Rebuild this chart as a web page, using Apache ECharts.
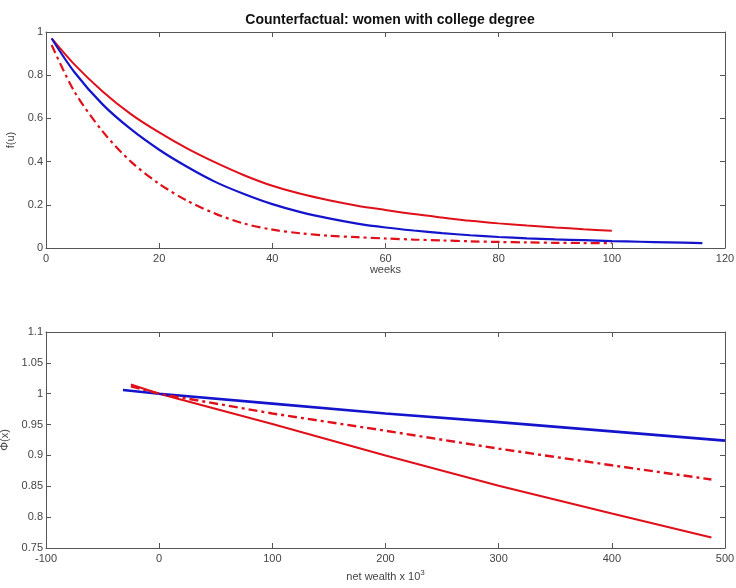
<!DOCTYPE html>
<html>
<head>
<meta charset="utf-8">
<script src="https://cdn.jsdelivr.net/npm/echarts@6/dist/echarts.min.js"></script>
<style>
html,body{margin:0;padding:0;background:#fff;}
#c{width:736px;height:588px;}
</style>
</head>
<body>
<div id="c"></div>
<script>
// ---- Top panel data (weeks vs f(u)) ----
const weeksRed = [1,5,10,15,20,25,30,35,40,45,50,55,60,65,70,75,80,85,90,95,100];
const fRedSolid = [0.97,0.85,0.725,0.62,0.535,0.46,0.395,0.337,0.288,0.251,0.221,0.196,0.176,0.157,0.141,0.126,0.114,0.104,0.095,0.087,0.08];
const fRedDash  = [0.94,0.725,0.54,0.40,0.297,0.218,0.158,0.113,0.085,0.068,0.057,0.05,0.044,0.039,0.035,0.031,0.028,0.026,0.024,0.023,0.022];
const weeksBlue = [1,5,10,15,20,25,30,35,40,45,50,55,60,65,70,75,80,85,90,95,100,105,110,116];
const fBlue = [0.97,0.815,0.665,0.55,0.455,0.375,0.305,0.25,0.203,0.166,0.137,0.113,0.095,0.081,0.069,0.059,0.051,0.045,0.04,0.036,0.032,0.029,0.026,0.023];

// ---- Bottom panel data (net wealth vs Phi(x)) ----
const wealthRed = [-25,0,100,200,300,400,488];
const phiRedSolid = [1.015,1.0,0.951,0.90,0.851,0.806,0.767];
const phiRedDash  = [1.012,1.0,0.968,0.940,0.911,0.884,0.861];
const wealthBlue = [-32,0,100,200,300,400,500];
const phiBlue = [1.006,1.0,0.984,0.968,0.954,0.939,0.924];

// ---- Axis settings ----
const topX = {min:0, max:120, interval:20};
const topY = {min:0, max:1, interval:0.2};
const botX = {min:-100, max:500, interval:100};
const botY = {min:0.75, max:1.1, interval:0.05};

const titleText = 'Counterfactual: women with college degree';

const pairs = (xs, ys) => xs.map((x,i)=>[x, ys[i]]);
const FONT = '"Liberation Sans Narrow","Arial Narrow","Liberation Sans",Arial,sans-serif';
const axisCol = '#555';
const lblCol = '#444';
const fmt = v => String(+(+v).toFixed(2));

function xAxes(grid, cfg, name, gap, nameStyle){
  return [
    {
      type:'value', gridIndex:grid, position:'bottom', min:cfg.min, max:cfg.max, interval:cfg.interval,
      axisLine:{onZero:false, lineStyle:{color:axisCol, width:1}},
      axisTick:{inside:true, length:5, lineStyle:{color:axisCol}},
      axisLabel:{color:lblCol, fontFamily:FONT, fontSize:11, margin:5, formatter:fmt},
      splitLine:{show:false},
      name:name, nameLocation:'middle', nameGap:gap,
      nameTextStyle:Object.assign({color:lblCol, fontFamily:FONT, fontSize:11}, nameStyle||{})
    },
    {
      type:'value', gridIndex:grid, position:'top', min:cfg.min, max:cfg.max, interval:cfg.interval,
      axisLine:{onZero:false, lineStyle:{color:axisCol, width:1}},
      axisTick:{inside:true, length:5, lineStyle:{color:axisCol}},
      axisLabel:{show:false}, splitLine:{show:false}
    }
  ];
}
function yAxes(grid, cfg, name, gap){
  return [
    {
      type:'value', gridIndex:grid, position:'left', min:cfg.min, max:cfg.max, interval:cfg.interval,
      axisLine:{onZero:false, show:true, lineStyle:{color:axisCol, width:1}},
      axisTick:{show:true, inside:true, length:5, lineStyle:{color:axisCol}},
      axisLabel:{color:lblCol, fontFamily:FONT, fontSize:11, margin:3, formatter:fmt},
      splitLine:{show:false},
      name:name, nameLocation:'middle', nameGap:gap, nameRotate:90,
      nameTextStyle:{color:lblCol, fontFamily:FONT, fontSize:11}
    },
    {
      type:'value', gridIndex:grid, position:'right', min:cfg.min, max:cfg.max, interval:cfg.interval,
      axisLine:{onZero:false, show:true, lineStyle:{color:axisCol, width:1}},
      axisTick:{show:true, inside:true, length:5, lineStyle:{color:axisCol}},
      axisLabel:{show:false}, splitLine:{show:false}
    }
  ];
}

const RED = '#e0101a';
const BLUE = '#1414cc';
const dashDot = [9,4,3,4];

const chart = echarts.init(document.getElementById('c'), null, {renderer:'canvas'});
chart.setOption({
  animation:false,
  backgroundColor:'#fff',
  title:{text:titleText, left:385, top:8, textAlign:'center',
    textStyle:{fontFamily:FONT, fontWeight:'bold', fontSize:14, color:'#111'}},
  grid:[
    {left:46, top:32, width:679, height:216, containLabel:false, outerBoundsMode:'none'},
    {left:46, top:332, width:679, height:216, containLabel:false, outerBoundsMode:'none'}
  ],
  xAxis:[].concat(
    xAxes(0, topX, 'weeks', 14),
    xAxes(1, botX, 'net wealth x 10{sup|3}', 21,
      {rich:{sup:{fontSize:8, verticalAlign:'top', padding:[0,0,7,0], color:lblCol, fontFamily:FONT}}})
  ),
  yAxis:[].concat(
    yAxes(0, topY, 'f(u)', 22),
    yAxes(1, botY, 'Φ(x)', 31)
  ),
  series:[
    {type:'line', xAxisIndex:0, yAxisIndex:0, data:pairs(weeksRed, fRedSolid), symbol:'none',
      smooth:0.3, lineStyle:{color:RED, width:2}},
    {type:'line', xAxisIndex:0, yAxisIndex:0, data:pairs(weeksBlue, fBlue), symbol:'none',
      smooth:0.3, lineStyle:{color:BLUE, width:2.2}},
    {type:'line', xAxisIndex:0, yAxisIndex:0, data:pairs(weeksRed, fRedDash), symbol:'none',
      smooth:0.3, lineStyle:{color:RED, width:2.2, type:dashDot}},
    {type:'line', xAxisIndex:2, yAxisIndex:2, data:pairs(wealthRed, phiRedSolid), symbol:'none',
      lineStyle:{color:RED, width:2}},
    {type:'line', xAxisIndex:2, yAxisIndex:2, data:pairs(wealthBlue, phiBlue), symbol:'none',
      lineStyle:{color:BLUE, width:2.6}},
    {type:'line', xAxisIndex:2, yAxisIndex:2, data:pairs(wealthRed, phiRedDash), symbol:'none',
      lineStyle:{color:RED, width:2.4, type:dashDot}}
  ]
});
</script>
</body>
</html>
